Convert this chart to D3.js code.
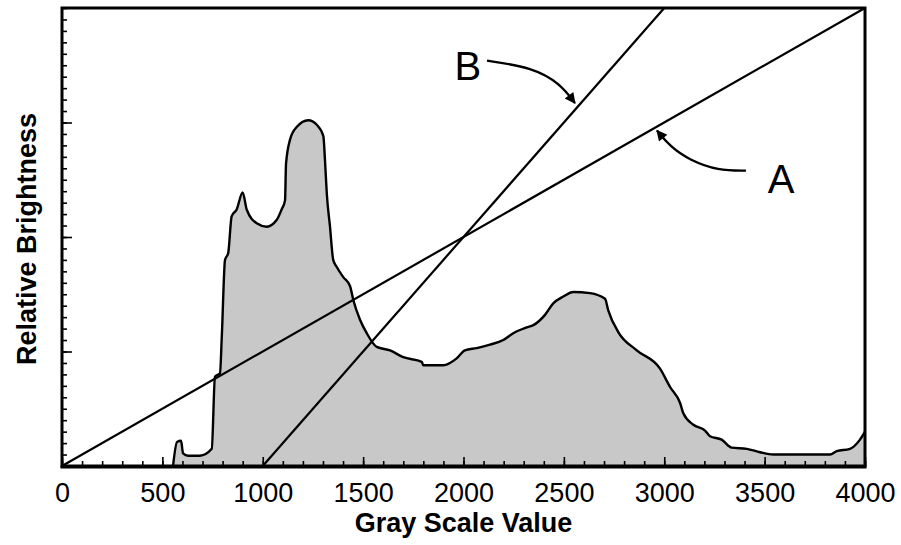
<!DOCTYPE html>
<html>
<head>
<meta charset="utf-8">
<script src="https://cdn.jsdelivr.net/npm/d3@7"></script>
<style>
body { margin: 0; background: #fff; }
svg { font-family: "Liberation Sans", Arial, Helvetica, sans-serif; }
</style>
</head>
<body>
<svg id="chart" width="901" height="545"></svg>
<script>
// histogram (gray scale value, relative brightness)
var hist_x = [553, 573, 593, 603, 628, 687, 746, 762, 787, 796, 812, 828, 845, 870, 900, 920, 970, 1020,
   1070, 1094, 1111, 1116, 1136, 1169, 1227, 1269, 1302, 1310, 1319, 1335, 1351, 1368, 1401, 1435, 1451,
   1484, 1518, 1568, 1634, 1700, 1792, 1800, 1899, 1966, 2007, 2066, 2132, 2198, 2248, 2315, 2348, 2406,
   2447, 2497, 2547, 2630, 2705, 2721, 2771, 2863, 2979, 3029, 3079, 3095, 3145, 3203, 3228, 3286, 3336,
   3411, 3477, 3543, 3643, 3826, 3859, 3925, 3975, 4000];
var hist_y = [0, 0.21, 0.22, 0.11, 0.09, 0.09, 0.15, 0.78, 0.81, 1.13, 1.80, 1.86, 2.18, 2.24, 2.39, 2.24, 2.12, 2.09,
   2.15, 2.24, 2.32, 2.64, 2.85, 2.96, 3.02, 2.98, 2.88, 2.67, 2.38, 2.09, 1.80, 1.74, 1.65, 1.57, 1.45,
   1.28, 1.16, 1.04, 1.01, 0.95, 0.91, 0.88, 0.88, 0.94, 1.01, 1.03, 1.06, 1.10, 1.16, 1.21, 1.23, 1.32,
   1.42, 1.48, 1.52, 1.51, 1.46, 1.36, 1.17, 1.01, 0.85, 0.69, 0.55, 0.46, 0.36, 0.31, 0.26, 0.23, 0.16,
   0.15, 0.12, 0.10, 0.10, 0.10, 0.13, 0.15, 0.23, 0.30];

// transfer lines A and B
var line_names = ['A', 'B'];
var line_x_start = [0, 1000];
var line_x_end = [4000, 3000];
var line_y_start = [0, 0];
var line_y_end = [4, 4];

// label callouts (data units)
var label_x = [3582, 2022];
var label_y = [2.51, 3.50];
var arrow_a_x = [3407, 3268, 3128, 3029, 2964];
var arrow_a_y = [2.58, 2.58, 2.67, 2.79, 2.93];
var arrow_b_x = [2117, 2346, 2481, 2555];
var arrow_b_y = [3.54, 3.48, 3.34, 3.17];

var x_ticks = [0, 500, 1000, 1500, 2000, 2500, 3000, 3500, 4000];
var x_title = 'Gray Scale Value';
var y_title = 'Relative Brightness';

var margin = {top: 8, right: 36, bottom: 79, left: 62};
var width = 901 - margin.left - margin.right;
var height = 545 - margin.top - margin.bottom;

plot_chart();

function zip(xs, ys) {
   var out = [];
   for (var i = 0; i < xs.length; i++) out.push({x: xs[i], y: ys[i]});
   return out;
}

function plot_chart() {
   var svg = d3.select('#chart');
   var g = svg.append('g').attr('transform', 'translate(' + margin.left + ',' + margin.top + ')');

   var x = d3.scaleLinear().domain([0, 4000]).range([0, width]);
   var y = d3.scaleLinear().domain([0, 4]).range([height, 0]);

   var hist = zip(hist_x, hist_y);

   g.append('path')
      .datum(hist)
      .attr('fill', '#c8c8c8')
      .attr('d', d3.area().curve(d3.curveMonotoneX)
         .x(function(d){ return x(d.x); }).y0(y(0)).y1(function(d){ return y(d.y); }));
   g.append('path')
      .datum(hist)
      .attr('fill', 'none')
      .attr('stroke', '#000')
      .attr('stroke-width', 2.4)
      .attr('stroke-linejoin', 'round')
      .attr('d', d3.line().curve(d3.curveMonotoneX)
         .x(function(d){ return x(d.x); }).y(function(d){ return y(d.y); }));

   for (var i = 0; i < line_names.length; i++) {
      g.append('line')
         .attr('x1', x(line_x_start[i])).attr('y1', y(line_y_start[i]))
         .attr('x2', x(line_x_end[i])).attr('y2', y(line_y_end[i]))
         .attr('stroke', '#000').attr('stroke-width', 2.2);
   }

   // arrow head
   svg.append('defs').append('marker')
      .attr('id', 'head')
      .attr('viewBox', '0 0 10 10')
      .attr('refX', 9).attr('refY', 5)
      .attr('markerWidth', 7).attr('markerHeight', 4.5)
      .attr('markerUnits', 'strokeWidth')
      .attr('orient', 'auto')
      .append('path').attr('d', 'M0,0 L10,5 L0,10 Z').attr('fill', '#000');

   var curve = d3.line().x(function(d){ return x(d.x); }).y(function(d){ return y(d.y); }).curve(d3.curveBasis);
   [zip(arrow_a_x, arrow_a_y), zip(arrow_b_x, arrow_b_y)].forEach(function(pts){
      g.append('path')
         .datum(pts)
         .attr('fill', 'none')
         .attr('stroke', '#000')
         .attr('stroke-width', 2.4)
         .attr('marker-end', 'url(#head)')
         .attr('d', curve);
   });

   for (i = 0; i < line_names.length; i++) {
      g.append('text')
         .attr('x', x(label_x[i])).attr('y', y(label_y[i]))
         .attr('text-anchor', 'middle')
         .attr('dy', '0.36em')
         .style('font-size', '40px')
         .text(line_names[i]);
   }

   // ticks point into the plot
   var minor_x = d3.range(0, 4001, 100);
   var minor_y = d3.range(0, 4.001, 0.1);
   g.append('g')
      .attr('transform', 'translate(0,' + height + ')')
      .call(d3.axisBottom(x).tickValues(minor_x).tickSizeInner(-5).tickSizeOuter(0).tickFormat(''))
      .call(style_axis);
   g.append('g')
      .attr('transform', 'translate(0,' + height + ')')
      .call(d3.axisBottom(x).tickValues(x_ticks).tickSizeInner(-9).tickSizeOuter(0).tickPadding(17).tickFormat(d3.format('d')))
      .call(style_axis)
      .selectAll('text').style('font-size', '27px').attr('fill', '#000');
   g.append('g')
      .call(d3.axisLeft(y).tickValues(minor_y).tickSizeInner(-5).tickSizeOuter(0).tickFormat(''))
      .call(style_axis);
   g.append('g')
      .call(d3.axisLeft(y).tickValues([1, 2, 3]).tickSizeInner(-10).tickSizeOuter(0).tickFormat(''))
      .call(style_axis);

   // frame
   g.append('rect')
      .attr('width', width).attr('height', height)
      .attr('fill', 'none').attr('stroke', '#000').attr('stroke-width', 3);
   g.append('line')
      .attr('x1', -1.5).attr('x2', width + 1.5).attr('y1', height + 1).attr('y2', height + 1)
      .attr('stroke', '#000').attr('stroke-width', 3);

   svg.append('text')
      .attr('x', margin.left + width / 2).attr('y', 532)
      .attr('text-anchor', 'middle')
      .style('font-size', '27px').style('font-weight', 'bold')
      .text(x_title);
   svg.append('text')
      .attr('transform', 'translate(36,239) rotate(-90)')
      .attr('text-anchor', 'middle')
      .style('font-size', '27px').style('font-weight', 'bold')
      .text(y_title);
}

function style_axis(sel) {
   sel.select('.domain').remove();
   sel.selectAll('line').attr('stroke', '#000').attr('stroke-width', 1.6);
}
</script>
</body>
</html>
